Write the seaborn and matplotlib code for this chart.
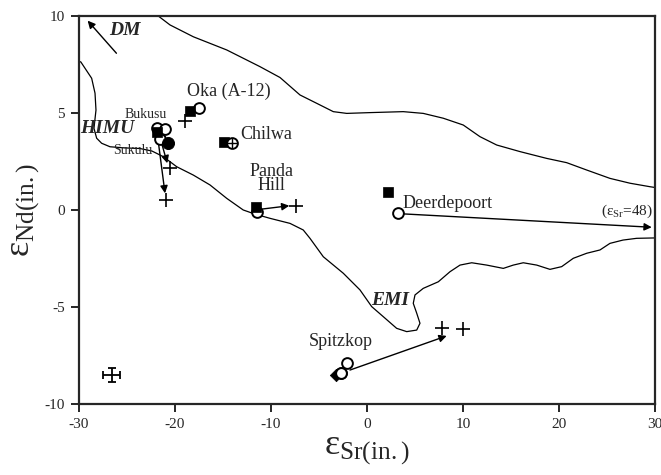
import matplotlib
matplotlib.use("Agg")
import matplotlib.pyplot as plt
import seaborn as sns
import pandas as pd

sns.set_style("ticks")
plt.rcParams["font.family"] = ["Liberation Serif", "DejaVu Serif"]
plt.rcParams["mathtext.fontset"] = "custom"
plt.rcParams["mathtext.rm"] = "Liberation Serif"
plt.rcParams["mathtext.it"] = "Liberation Serif:italic"
plt.rcParams["axes.unicode_minus"] = False

# Mantle-array field: upper and lower boundary lines
upper_x = [-21.74, -20.52, -18.09, -14.61, -11.15, -9.06, -6.98, -5.24, -3.51, -2.11,
           0.31, 3.78, 5.86, 7.95, 10.03, 11.77, 13.51, 15.94, 18.72, 20.80, 22.89,
           25.31, 27.40, 29.48, 30.0]
upper_y = [10.0, 9.54, 8.93, 8.25, 7.39, 6.83, 5.93, 5.50, 5.07, 4.98, 5.02, 5.07,
           4.98, 4.73, 4.38, 3.78, 3.35, 3.01, 2.66, 2.44, 2.06, 1.63, 1.38, 1.20, 1.16]

lower_x = [-30.0, -29.82, -28.68, -28.33, -28.23, -28.44, -28.16, -27.64, -26.77,
           -25.21, -23.65, -22.40, -21.22, -19.82, -18.09, -16.35, -14.61, -12.89,
           -11.67, -10.10, -8.02, -6.64, -5.94, -4.55, -2.47, -0.73, 0.49, 1.70, 3.09,
           4.14, 5.18, 5.52, 5.18, 4.82, 5.00, 5.86, 7.43, 8.65, 9.69, 10.91, 12.47,
           14.20, 15.24, 16.28, 17.68, 19.06, 20.28, 21.49, 22.89, 24.27, 25.31, 26.67,
           28.09, 30.0]
lower_y = [7.64, 7.64, 6.79, 6.02, 5.15, 4.21, 3.70, 3.44, 3.26, 3.20, 3.17, 3.04,
           2.75, 2.23, 1.80, 1.29, 0.60, 0.0, -0.21, -0.43, -0.69, -1.03, -1.46, -2.41,
           -3.26, -4.12, -4.98, -5.50, -6.10, -6.27, -6.19, -5.84, -5.32, -4.81, -4.38,
           -4.04, -3.70, -3.18, -2.84, -2.72, -2.84, -3.01, -2.84, -2.72, -2.84, -3.06,
           -2.92, -2.49, -2.23, -2.06, -1.72, -1.55, -1.46, -1.44]

# Whole-rock initial values (filled squares)
sq_site = ["Oka", "Bukusu", "Chilwa", "Panda Hill", "Deerdepoort"]
sq_x = [-18.4, -21.9, -14.9, -11.56, 2.2]
sq_y = [5.1, 4.04, 3.52, 0.17, 0.93]

# Open circles
oc_site = ["Oka", "Bukusu", "Bukusu", "Sukulu", "Chilwa", "Panda Hill",
           "Deerdepoort", "Spitzkop", "Spitzkop"]
oc_x = [-17.5, -21.9, -21.0, -21.6, -14.1, -11.5, 3.26, -2.74, -2.11]
oc_y = [5.26, 4.24, 4.16, 3.64, 3.47, -0.09, -0.17, -8.39, -7.90]

# Filled circle and filled diamond
fc_x = [-20.7]
fc_y = [3.44]
dm_x = [-3.2]
dm_y = [-8.5]

# Crosses
pl_x = [-19.0, -20.5, -20.9, -7.4, 7.8, 10.0]
pl_y = [4.6, 2.15, 0.52, 0.22, -6.07, -6.15]

# Arrows: start and end points
arr_x0 = [-21.74, -21.39, -10.9, 3.75, -1.77, -26.1]
arr_y0 = [3.52, 3.44, 0.05, -0.2, -8.25, 8.08]
arr_x1 = [-21.04, -20.80, -8.09, 29.66, 8.30, -29.1]
arr_y1 = [0.86, 2.41, 0.22, -0.89, -6.49, 9.76]

# Typical analytical uncertainty
err_x, err_y = -26.6, -8.5
err_dx, err_dy = 0.87, 0.38

fig = plt.figure(figsize=(6.61, 4.75), dpi=100)
ax = fig.add_axes([0.1195, 0.1495, 0.8714, 0.8168])

sns.lineplot(x=upper_x, y=upper_y, sort=False, estimator=None, color="black",
             linewidth=0.9, ax=ax)
sns.lineplot(x=lower_x, y=lower_y, sort=False, estimator=None, color="black",
             linewidth=0.9, ax=ax)

for x0, y0, x1, y1 in zip(arr_x0, arr_y0, arr_x1, arr_y1):
    ax.annotate("", xy=(x1, y1), xytext=(x0, y0),
                arrowprops=dict(arrowstyle="-|>", color="black", lw=1.0,
                                mutation_scale=11, shrinkA=0, shrinkB=0),
                zorder=2)

oc = pd.DataFrame({"site": oc_site, "x": oc_x, "y": oc_y})
sq = pd.DataFrame({"site": sq_site, "x": sq_x, "y": sq_y})
top_circles = oc[oc.site == "Chilwa"]
other_circles = oc[oc.site != "Chilwa"]

sns.scatterplot(data=other_circles, x="x", y="y", marker="o", s=60, facecolor="white",
                edgecolor="black", linewidth=1.4, zorder=3, ax=ax)
sns.scatterplot(data=sq, x="x", y="y", marker="s", s=50, color="black",
                edgecolor="black", linewidth=0.5, zorder=4, ax=ax)
sns.scatterplot(data=top_circles, x="x", y="y", marker="o", s=60, facecolor="white",
                edgecolor="black", linewidth=1.4, zorder=5, ax=ax)
ax.scatter(top_circles.x, top_circles.y, marker="+", s=55, color="black",
           linewidth=1.0, zorder=6)
sns.scatterplot(x=fc_x, y=fc_y, marker="o", s=75, color="black", edgecolor="black",
                zorder=4, ax=ax)
sns.scatterplot(x=dm_x, y=dm_y, marker="D", s=40, color="black", edgecolor="black",
                zorder=4, ax=ax)
ax.scatter(pl_x, pl_y, marker="+", s=90, color="black", linewidth=1.2, zorder=4)
ax.scatter([-2.74], [-8.39], marker="o", s=60, facecolor="white", edgecolor="black",
           linewidth=1.4, zorder=5)

ax.errorbar(err_x, err_y, xerr=err_dx, yerr=err_dy, color="black", lw=1.3,
            capsize=3, capthick=1.3, zorder=4)

# Site labels
ax.text(-18.8, 6.1, "Oka (A-12)", fontsize=13, ha="left", va="center")
ax.text(-13.2, 3.87, "Chilwa", fontsize=13, ha="left", va="center")
ax.text(-9.93, 1.63, "Panda\nHill", fontsize=13, ha="center", va="center",
        linespacing=0.8)
ax.text(3.75, 0.36, "Deerdepoort", fontsize=13, ha="left", va="center")
ax.text(29.8, -0.09, r"(ε$_{\mathrm{Sr}}$=48)", fontsize=11, ha="right",
        va="center")
ax.text(-2.76, -6.79, "Spitzkop", fontsize=13, ha="center", va="center")
ax.text(-23.1, 4.9, "Bukusu", fontsize=10, ha="center", va="center")
ax.text(-24.4, 3.09, "Sukulu", fontsize=10, ha="center", va="center")

# Mantle end-member labels
for lx, ly, lt in [(-27.1, 4.21, "HIMU"), (-25.24, 9.24, "DM"), (2.4, -4.64, "EMI")]:
    ax.text(lx, ly, lt, fontsize=14, fontweight="bold", fontstyle="italic",
            ha="center", va="center")

ax.set_xlim(-30, 30)
ax.set_ylim(-10, 10)
ax.set_xticks([-30, -20, -10, 0, 10, 20, 30])
ax.set_yticks([-10, -5, 0, 5, 10])
ax.tick_params(direction="out", length=6, width=1.4, labelsize=11, pad=4,
               top=False, right=False)
for sp in ax.spines.values():
    sp.set_linewidth(1.6)
    sp.set_visible(True)

ax.set_xlabel(r"ε$_{\mathrm{Sr(in.)}}$", fontsize=26, labelpad=2)
ax.set_ylabel(r"ε$_{\mathrm{Nd(in.)}}$", fontsize=26, labelpad=2)

fig.savefig("out.png", dpi=100)
